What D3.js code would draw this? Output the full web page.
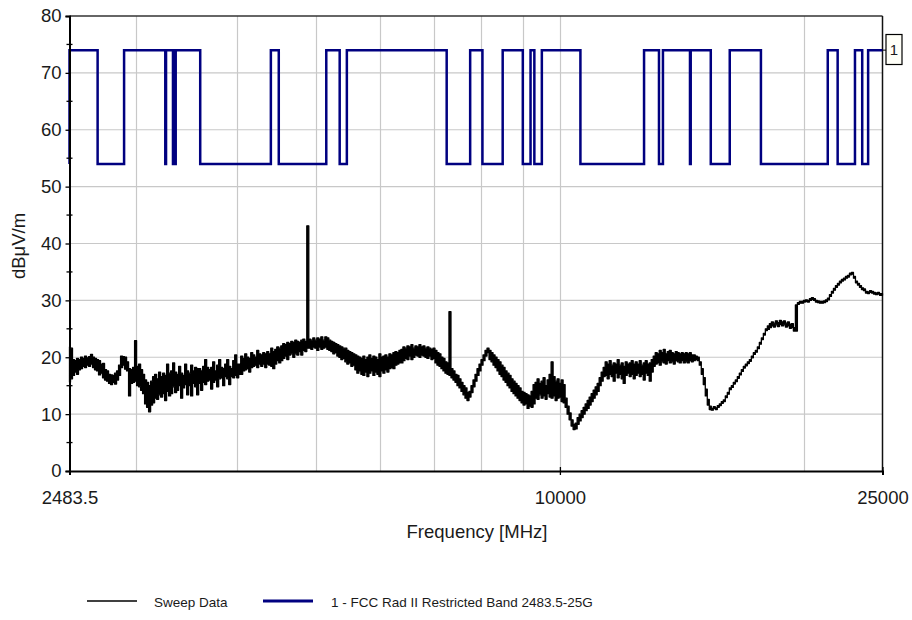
<!DOCTYPE html>
<html>
<head>
<meta charset="utf-8">
<script src="https://cdn.jsdelivr.net/npm/d3@7"></script>
<style>
  html, body { margin: 0; padding: 0; background: #ffffff; }
  svg { display: block; }
  text { font-family: "Liberation Sans", Arial, sans-serif; fill: #1a1a1a; }
</style>
</head>
<body>
<svg id="chart" width="912" height="620"></svg>
<script>
// Sweep display: one column per log-spaced bin between start and stop,
// holding the lowest and highest trace level seen in that bin (dBuV/m)
const sweepStart = 2483.5;
const sweepStop = 25000;
const sweepMin = [
  15.6, 16.2, 16.8, 17.4, 17.0, 17.8, 18.0, 18.4, 18.2, 18.6,
  18.4, 18.8, 18.2, 17.8, 17.6, 16.9, 17.2, 16.4, 16.0, 15.8,
  15.4, 15.2, 15.6, 15.3, 16.0, 16.8, 18.2, 18.6, 17.9, 17.6,
  13.2, 15.4, 15.6, 15.8, 15.0, 14.8, 14.2, 13.6, 11.8, 11.2,
  10.4, 11.6, 12.0, 12.8, 12.6, 13.4, 13.0, 13.6, 12.4, 14.0,
  13.2, 13.6, 14.8, 13.8, 14.2, 15.0, 12.8, 14.6, 15.2, 13.4,
  15.0, 13.2, 15.4, 14.8, 13.4, 15.4, 14.2, 15.6, 15.2, 15.8,
  16.0, 14.4, 15.6, 16.0, 14.8, 16.2, 16.4, 15.0, 16.6, 16.2,
  15.2, 16.6, 16.4, 16.8, 16.4, 17.0, 17.0, 17.6, 17.8, 18.0,
  17.4, 18.2, 18.4, 18.6, 18.2, 18.8, 18.4, 18.8, 18.2, 18.8,
  18.6, 18.4, 18.0, 18.8, 19.4, 19.0, 19.4, 19.8, 20.2, 19.6,
  20.4, 20.6, 20.0, 20.6, 20.4, 21.0, 20.4, 21.2, 21.0, 21.6,
  21.6, 21.4, 21.8, 21.6, 21.2, 21.8, 21.4, 21.6, 21.8, 21.4,
  21.2, 21.0, 20.6, 20.8, 20.2, 20.0, 19.6, 19.8, 19.2, 18.8,
  19.0, 18.4, 18.6, 17.8, 17.2, 17.6, 17.0, 16.8, 17.4, 16.6,
  17.2, 17.6, 16.8, 17.4, 17.0, 16.6, 17.6, 17.2, 17.8, 17.4,
  18.0, 18.2, 18.0, 18.6, 18.8, 19.0, 19.0, 19.4, 19.8, 19.6,
  20.2, 19.6, 20.0, 20.4, 20.2, 20.0, 20.4, 20.2, 20.0, 19.8,
  20.2, 19.6, 19.8, 19.0, 18.6, 18.4, 18.0, 17.6, 17.2, 17.0,
  16.8, 16.4, 16.0, 15.6, 15.0, 14.6, 14.0, 13.4, 12.8, 12.4,
  13.0, 13.8, 14.8, 15.8, 16.8, 17.6, 18.6, 19.4, 20.2, 20.8,
  19.6, 19.2, 18.6, 18.2, 17.6, 17.0, 16.6, 16.0, 15.6, 15.0,
  14.6, 14.0, 13.6, 13.2, 12.8, 12.4, 12.0, 11.6, 11.8, 11.0,
  11.4, 11.2, 11.8, 12.8, 12.6, 13.4, 12.8, 13.2, 12.6, 13.6,
  13.0, 12.8, 13.2, 12.4, 12.8, 13.0, 12.2, 12.0, 11.2, 10.0,
  9.0, 7.9, 7.3, 7.4, 8.2, 8.8, 9.4, 10.0, 10.6, 11.0,
  11.6, 12.2, 12.8, 13.4, 14.0, 15.0, 15.8, 16.6, 16.8, 16.2,
  17.0, 16.6, 15.8, 17.2, 16.4, 17.0, 16.2, 15.4, 16.8, 17.2,
  16.6, 17.0, 16.2, 16.8, 17.2, 16.6, 17.0, 16.0, 17.2, 16.8,
  15.8, 17.4, 18.4, 18.8, 19.0, 18.6, 19.2, 19.0, 18.8, 19.4,
  19.0, 19.2, 18.8, 19.4, 19.2, 19.0, 19.4, 19.0, 19.2, 19.0,
  19.4, 19.2, 19.4, 19.6, 19.4, 18.6, 17.0, 15.2, 13.2, 11.6,
  10.8, 10.7, 11.0, 10.8, 11.2, 11.5, 11.9, 12.2, 12.9, 13.5,
  14.3, 14.7, 15.3, 15.7, 16.3, 16.9, 17.5, 18.1, 18.5, 18.9,
  19.3, 19.9, 20.5, 20.9, 21.5, 22.3, 23.1, 23.9, 24.7, 24.9,
  25.2, 25.5, 25.3, 25.7, 25.4, 25.8, 25.5, 25.7, 25.3, 25.5,
  25.1, 25.2, 24.6, 24.6, 29.3, 29.5, 29.5, 29.7, 29.8, 29.7,
  30.0, 30.2, 30.0, 29.7, 29.6, 29.5, 29.5, 29.6, 29.8, 30.1,
  30.7, 31.3, 31.8, 32.3, 32.7, 33.1, 33.4, 33.6, 33.9, 34.1,
  34.5, 34.6, 33.9, 33.1, 32.7, 32.3, 31.9, 31.7, 31.3, 31.2,
  31.4, 31.3, 31.1, 31.0, 31.1, 30.9, 30.9
];
const sweepMax = [
  21.8, 21.6, 19.6, 19.4, 19.8, 19.6, 20.0, 19.8, 20.2, 19.9,
  20.1, 20.5, 20.0, 19.8, 19.6, 19.4, 18.8, 18.9, 17.8, 17.6,
  17.0, 16.9, 16.8, 17.2, 17.6, 18.6, 20.2, 20.1, 20.0, 19.2,
  18.0, 17.8, 18.2, 22.9, 18.4, 18.8, 17.8, 17.0, 16.0, 15.6,
  15.0, 15.8, 16.6, 17.0, 16.2, 17.4, 16.6, 17.2, 16.8, 18.8,
  17.2, 17.6, 19.0, 17.4, 17.0, 18.4, 17.2, 16.8, 18.8, 17.6,
  17.2, 18.6, 17.6, 18.2, 18.0, 18.0, 17.6, 18.4, 19.6, 18.2,
  17.8, 18.2, 19.2, 17.6, 18.6, 19.6, 18.2, 18.0, 18.8, 19.6,
  18.4, 18.0, 19.4, 20.4, 18.8, 18.8, 20.2, 19.8, 20.6, 20.0,
  19.8, 20.8, 20.4, 20.0, 21.2, 20.6, 20.4, 20.8, 20.6, 21.0,
  20.6, 21.6, 21.0, 21.4, 21.8, 21.6, 22.0, 22.4, 22.2, 22.6,
  22.4, 22.8, 22.6, 23.0, 22.8, 22.6, 23.0, 23.2, 22.8, 43.1,
  23.2, 23.0, 23.4, 23.0, 23.4, 23.2, 23.6, 23.0, 23.6, 23.4,
  23.0, 22.8, 22.6, 22.4, 22.2, 22.0, 21.8, 21.6, 21.6, 21.2,
  21.0, 20.8, 20.6, 20.4, 20.2, 20.0, 19.8, 20.2, 19.6, 20.0,
  20.4, 19.8, 20.2, 20.0, 19.6, 20.6, 20.0, 20.2, 20.4, 20.0,
  20.6, 20.4, 20.8, 21.0, 20.8, 21.2, 21.4, 21.8, 21.6, 22.0,
  21.8, 22.2, 21.6, 22.0, 21.8, 22.2, 21.8, 22.0, 21.6, 21.8,
  21.6, 21.4, 21.6, 21.2, 20.8, 20.6, 20.0, 19.8, 19.2, 19.0,
  28.0, 18.0, 17.6, 17.0, 16.8, 16.2, 15.6, 15.0, 14.6, 13.8,
  14.0, 15.0, 16.0, 17.0, 18.0, 18.8, 19.6, 20.4, 21.2, 21.6,
  21.2, 20.8, 20.4, 20.0, 19.6, 19.2, 18.6, 18.2, 17.6, 17.2,
  16.8, 16.2, 15.8, 15.4, 15.0, 14.6, 14.0, 13.8, 13.6, 13.4,
  13.2, 14.0, 15.2, 15.6, 16.2, 15.4, 15.8, 16.4, 15.0, 16.0,
  17.0, 19.2, 16.6, 15.8, 16.2, 15.4, 16.0, 15.2, 12.8, 11.4,
  10.2, 9.0, 8.2, 8.4, 9.4, 10.0, 10.6, 11.2, 11.8, 12.4,
  13.0, 13.6, 14.2, 14.8, 15.4, 16.4, 17.4, 18.2, 19.2, 18.8,
  19.4, 18.6, 19.0, 18.8, 19.6, 18.6, 19.0, 18.4, 19.2, 18.8,
  19.0, 19.4, 18.8, 19.2, 18.8, 19.4, 18.6, 19.0, 19.4, 18.8,
  19.0, 19.6, 20.2, 20.8, 20.6, 21.2, 20.8, 21.4, 20.6, 21.0,
  21.2, 20.8, 20.6, 21.0, 20.8, 20.6, 20.8, 20.6, 20.8, 20.6,
  20.8, 20.4, 20.4, 20.2, 20.0, 19.2, 18.0, 16.4, 14.4, 12.6,
  11.4, 11.0, 11.3, 11.1, 11.5, 11.8, 12.2, 12.5, 13.2, 13.8,
  14.6, 15.0, 15.6, 16.0, 16.6, 17.2, 17.8, 18.4, 18.8, 19.2,
  19.6, 20.2, 20.8, 21.2, 21.8, 22.6, 23.4, 24.2, 25.0, 25.5,
  25.9, 26.2, 26.0, 26.4, 26.1, 26.5, 26.2, 26.4, 26.0, 26.2,
  25.8, 25.9, 25.2, 29.2, 29.6, 29.8, 29.8, 30.0, 30.1, 30.0,
  30.3, 30.5, 30.3, 30.0, 29.9, 29.8, 29.8, 29.9, 30.1, 30.4,
  31.0, 31.6, 32.1, 32.6, 33.0, 33.4, 33.7, 33.9, 34.2, 34.4,
  34.8, 34.9, 34.2, 33.4, 33.0, 32.6, 32.2, 32.0, 31.6, 31.5,
  31.7, 31.6, 31.4, 31.3, 31.4, 31.2, 31.2
];

// Restricted-band limit: level changes at each band edge (MHz)
const limitFreqs = [
  2483.5, 2483.5, 2690, 2900, 3260, 3267, 3332, 3339, 3345.8, 3358,
  3600, 4400, 4500, 5150, 5350, 5460, 7250, 7750, 8025, 8500,
  9000, 9200, 9300, 9500, 10600, 12700, 13250, 13400, 14470, 14500,
  15350, 16200, 17700, 21400, 22010, 23120, 23600, 24000, 25000
];
const limitLevels = [
  54, 74, 54, 74, 54, 74, 54, 74, 54, 74,
  54, 74, 54, 74, 54, 74, 54, 74, 54, 74,
  54, 74, 54, 74, 54, 74, 54, 74, 54, 74,
  54, 74, 54, 74, 54, 74, 54, 74, 74
];

const xTickValues = [2483.5, 10000, 25000];
const xTickLabels = ["2483.5", "10000", "25000"];
const xGridValues = [3000, 4000, 5000, 6000, 7000, 8000, 9000, 10000, 20000];
const yTickValues = [0, 10, 20, 30, 40, 50, 60, 70, 80];
const yMinorValues = [5, 15, 25, 35, 45, 55, 65, 75];
const yGridValues = [10, 20, 30, 40, 50, 60, 70];

const seriesNames = ["Sweep Data", "1 - FCC Rad II Restricted Band 2483.5-25G"];
const seriesColors = ["#000000", "#000080"];
const limitMarker = "1";

const svg = d3.select("#chart");
const plot = { left: 69.5, right: 882.5, top: 16, bottom: 471 };

const x = d3.scaleLog().domain([sweepStart, sweepStop]).range([plot.left, plot.right]);
const y = d3.scaleLinear().domain([0, 80]).range([plot.bottom, plot.top]);

const n = sweepMin.length;
const sweepFreqs = d3.range(n).map(i => sweepStart * Math.pow(sweepStop / sweepStart, i / (n - 1)));
const sweep = sweepFreqs.map((f, i) => ({ f, lo: sweepMin[i], hi: sweepMax[i] }));
const limit = limitFreqs.map((f, i) => [f, limitLevels[i]]);

// grid
const grid = svg.append("g").attr("stroke", "#c8c8c8").attr("stroke-width", 1.2);
grid.selectAll("line.v").data(xGridValues).join("line")
  .attr("x1", d => Math.round(x(d)) + 0.5).attr("x2", d => Math.round(x(d)) + 0.5)
  .attr("y1", plot.top).attr("y2", plot.bottom);
grid.selectAll("line.h").data(yGridValues).join("line")
  .attr("y1", d => y(d)).attr("y2", d => y(d))
  .attr("x1", plot.left).attr("x2", plot.right);

// frame (top and right)
svg.append("line").attr("x1", plot.left).attr("x2", plot.right)
  .attr("y1", plot.top).attr("y2", plot.top).attr("stroke", "#333").attr("stroke-width", 1.3);
svg.append("line").attr("x1", plot.right).attr("x2", plot.right)
  .attr("y1", plot.top).attr("y2", plot.bottom).attr("stroke", "#111").attr("stroke-width", 1.5);

// sweep trace: each display bin drawn as a column from its min to its max
const sweepArea = d3.area()
  .x(d => x(d.f)).y0(d => y(d.lo)).y1(d => y(d.hi))
  .curve(d3.curveStep);
svg.append("path").datum(sweep)
  .attr("fill", seriesColors[0]).attr("stroke", seriesColors[0])
  .attr("stroke-width", 1.3).attr("stroke-linejoin", "round").attr("d", sweepArea);

// limit line
const stepGen = d3.line().x(d => x(d[0])).y(d => y(d[1])).curve(d3.curveStepAfter);
svg.append("path").datum(limit)
  .attr("fill", "none").attr("stroke", seriesColors[1])
  .attr("stroke-width", 2.5).attr("d", stepGen);

// y axis
const yAxis = d3.axisLeft(y).tickValues(yTickValues).tickSize(4).tickPadding(4)
  .tickFormat(d3.format("d"));
const gy = svg.append("g").attr("transform", `translate(${plot.left},0)`).call(yAxis);
gy.select(".domain").attr("stroke", "#000").attr("stroke-width", 2);
gy.selectAll(".tick line").attr("stroke", "#000").attr("stroke-width", 1.3);
gy.selectAll(".tick text").attr("font-size", "18.5px").attr("fill", "#1a1a1a")
  .style("font-family", "'Liberation Sans', Arial, sans-serif");
gy.selectAll("line.minor").data(yMinorValues).join("line").attr("class", "minor")
  .attr("x1", -3).attr("x2", 3).attr("y1", d => y(d)).attr("y2", d => y(d))
  .attr("stroke", "#000").attr("stroke-width", 1.3);

// x axis
const xAxis = d3.axisBottom(x).tickValues(xTickValues).tickSize(4)
  .tickFormat((d, i) => xTickLabels[i]);
const gx = svg.append("g").attr("transform", `translate(0,${plot.bottom})`).call(xAxis);
gx.select(".domain").attr("stroke", "#000").attr("stroke-width", 2);
gx.selectAll(".tick line").attr("y1", -4).attr("y2", 4).attr("stroke", "#000").attr("stroke-width", 1.3);
gx.selectAll(".tick text").attr("font-size", "18.5px").attr("fill", "#1a1a1a")
  .attr("y", 27).attr("dy", "0.35em")
  .style("font-family", "'Liberation Sans', Arial, sans-serif");

// axis titles
svg.append("text").attr("x", 477).attr("y", 532).attr("dy", "0.35em")
  .attr("text-anchor", "middle").attr("font-size", "18.5px").text("Frequency [MHz]");
svg.append("text").attr("transform", "translate(19,246) rotate(-90)")
  .attr("dy", "0.35em").attr("text-anchor", "middle").attr("font-size", "18.5px")
  .text("dBμV/m");

// limit marker box at the line end
const yEnd = y(limitLevels[limitLevels.length - 1]);
svg.append("line").attr("x1", plot.right).attr("x2", 886)
  .attr("y1", yEnd).attr("y2", yEnd).attr("stroke", "#000").attr("stroke-width", 1);
svg.append("rect").attr("x", 886).attr("y", 34.5).attr("width", 16).attr("height", 30)
  .attr("fill", "#fffff8").attr("stroke", "#000").attr("stroke-width", 1.2);
svg.append("text").attr("x", 894).attr("y", 49.5).attr("dy", "0.35em")
  .attr("text-anchor", "middle").attr("font-size", "15px").text(limitMarker);

// legend
const legend = svg.append("g");
const legendItems = [
  { x1: 87, x2: 137, tx: 154, width: 1.3 },
  { x1: 263, x2: 313, tx: 331, width: 3 }
];
legendItems.forEach((it, i) => {
  legend.append("line").attr("x1", it.x1).attr("x2", it.x2).attr("y1", 601).attr("y2", 601)
    .attr("stroke", seriesColors[i]).attr("stroke-width", it.width);
  legend.append("text").attr("x", it.tx).attr("y", 602).attr("dy", "0.35em")
    .attr("font-size", "13.5px").text(seriesNames[i]);
});
</script>
</body>
</html>
